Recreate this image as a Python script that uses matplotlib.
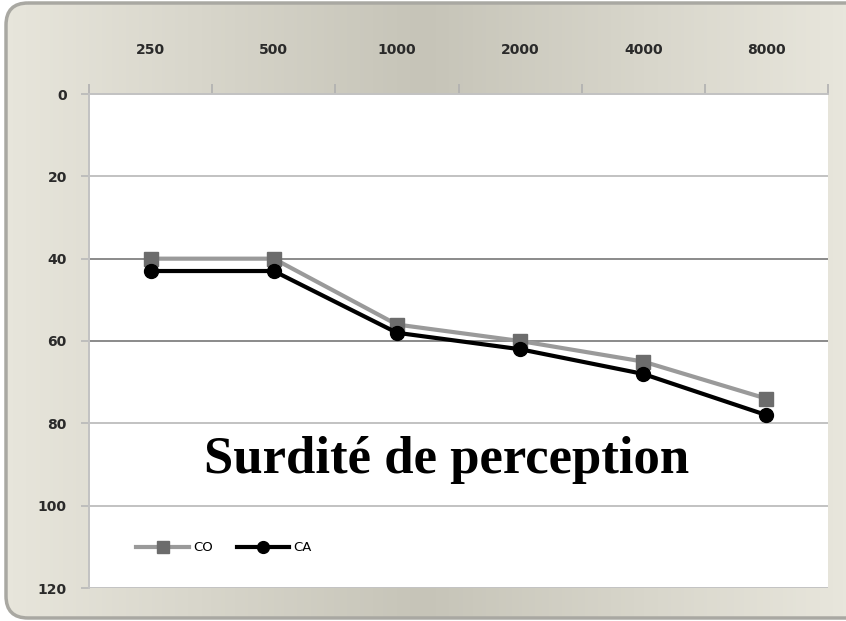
import numpy as np
import matplotlib
matplotlib.use("Agg")
import matplotlib.pyplot as plt
from matplotlib.patches import FancyBboxPatch

# audiogram values (dB)
freqs = ["250", "500", "1000", "2000", "4000", "8000"]
co_vals = [40, 40, 56, 60, 65, 74]
ca_vals = [43, 43, 58, 62, 68, 78]
y_ticks = [0, 20, 40, 60, 80, 100, 120]
title_text = "Surdité de perception"

fig = plt.figure(figsize=(8.46, 6.21), dpi=100)
fig.patch.set_facecolor("white")

# beige rounded background with a soft horizontal gradient
bg = fig.add_axes([0, 0, 1, 1], zorder=-5)
bg.set_xlim(0, 846)
bg.set_ylim(621, 0)
bg.axis("off")
grad = np.abs(np.linspace(-1, 1, 256))
grad = np.tile(grad, (2, 1))
cmap = matplotlib.colors.LinearSegmentedColormap.from_list("bg", ["#c6c4b8", "#e8e6dc"])
im = bg.imshow(grad, cmap=cmap, extent=(0, 846, 621, 0), aspect="auto")
box = FancyBboxPatch((6, 3), 880, 615, boxstyle="round,pad=0,rounding_size=22",
                     facecolor="none", edgecolor="#a9a8a2", linewidth=2.5)
bg.add_patch(box)
im.set_clip_path(box)

ax = fig.add_axes([89 / 846, 1 - 588 / 621, 739 / 846, 494 / 621])
ax.set_facecolor("white")
x = np.arange(len(freqs))

ax.set_xlim(-0.5, len(freqs) - 0.5)
ax.set_ylim(120, 0)

# horizontal gridlines
for yv in y_ticks[1:]:
    col = "#8a8a8a" if yv in (40, 60) else "#c2c2c2"
    ax.axhline(yv, color=col, lw=1.4, zorder=1)

ax.plot(x, co_vals, color="#9a9a9a", lw=3.0, marker="s", ms=10,
        mfc="#6c6c6c", mec="#6c6c6c", label="CO", zorder=3)
ax.plot(x, ca_vals, color="black", lw=3.0, marker="o", ms=10,
        mfc="black", mec="black", label="CA", zorder=4)

ax.text(0.484, 0.233, title_text, transform=ax.transAxes, ha="center", va="baseline",
        fontsize=38, fontweight="bold", family="Liberation Serif",
        color="black", zorder=5)

# axis styling: categories on top, inverted scale
ax.xaxis.tick_top()
ax.set_xticks(x)
ax.set_xticklabels(freqs)
ax.set_xticks(np.arange(-0.5, len(freqs)), minor=True)
ax.tick_params(axis="x", which="major", length=0, pad=26.5, labelsize=10,
               labelcolor="#2a2a2a")
ax.tick_params(axis="x", which="minor", length=7, width=1.2, color="#b0b0b0",
               direction="out", top=True, bottom=False)
ax.set_yticks(y_ticks)
ax.tick_params(axis="y", length=6, width=1.2, color="#b8b8b8", pad=10,
               labelsize=10, labelcolor="#2a2a2a")
for lab in ax.get_xticklabels() + ax.get_yticklabels():
    lab.set_fontweight("bold")

for side in ("right", "bottom"):
    ax.spines[side].set_visible(False)
ax.spines["top"].set_color("#c2c2c2")
ax.spines["top"].set_linewidth(1.4)
ax.spines["left"].set_color("#c2c2c2")
ax.spines["left"].set_linewidth(1.4)

ax.legend(loc="center left", bbox_to_anchor=(0.064, 0.081), ncol=2, frameon=False,
          fontsize=9.5, handlelength=4.0, handletextpad=0.3, columnspacing=1.8,
          markerscale=0.85, borderpad=0, borderaxespad=0)

fig.savefig("out.png", dpi=100)
